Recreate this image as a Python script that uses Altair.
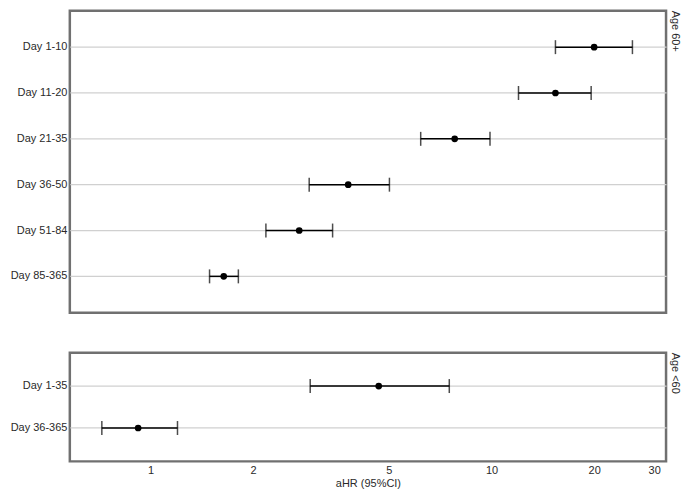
import altair as alt
import pandas as pd

groups = ["Age 60+"] * 6 + ["Age <60"] * 2
periods = ["Day 1-10", "Day 11-20", "Day 21-35", "Day 36-50", "Day 51-84", "Day 85-365",
           "Day 1-35", "Day 36-365"]
hr = [20.0, 15.4, 7.8, 3.8, 2.73, 1.64, 4.67, 0.92]
lo = [15.4, 12.0, 6.2, 2.92, 2.18, 1.49, 2.94, 0.72]
hi = [25.9, 19.6, 9.9, 5.02, 3.42, 1.81, 7.52, 1.20]
tick_values = [1, 2, 5, 10, 20, 30]

df = pd.DataFrame({"group": groups, "period": periods, "hr": hr, "lo": lo, "hi": hi})

xscale = alt.Scale(type="log", domain=[0.58, 32.5], nice=False)


def panel(group, height, show_axis):
    sub = df[df["group"] == group]
    order = list(sub["period"])
    if show_axis:
        xaxis = alt.Axis(values=tick_values, format="d", grid=False, ticks=False, domain=False,
                         title="aHR (95%CI)", labelFontSize=11, titleFontSize=11,
                         labelColor="#2a2a2a", titleColor="#2a2a2a", titleFontWeight="normal",
                         labelPadding=3, titlePadding=2)
    else:
        xaxis = None
    yenc = alt.Y("period:N", sort=order, title=None,
                 scale=alt.Scale(padding=0.59),
                 axis=alt.Axis(grid=True, gridColor="#d0d0d0", gridWidth=1.2, ticks=False,
                               domain=False, labelFontSize=11, labelColor="#2a2a2a",
                               labelPadding=3))
    base = alt.Chart(sub)
    rule = base.mark_rule(color="black", strokeWidth=1.5).encode(
        x=alt.X("lo:Q", scale=xscale, axis=xaxis), x2="hi:Q", y=yenc)
    tlo = base.mark_tick(color="black", size=14, thickness=1.5).encode(x=alt.X("lo:Q"), y=yenc)
    thi = base.mark_tick(color="black", size=14, thickness=1.5).encode(x=alt.X("hi:Q"), y=yenc)
    pt = base.mark_circle(color="black", size=45, opacity=1).encode(x=alt.X("hr:Q"), y=yenc)
    return alt.layer(rule, tlo, thi, pt).properties(
        width=598, height=height,
        title=alt.TitleParams(group, orient="right", anchor="start", fontSize=11,
                              fontWeight="normal", color="#2a2a2a", offset=4))


chart = alt.vconcat(
    panel("Age 60+", 303, False),
    panel("Age <60", 109, True),
    spacing=36,
).configure(font="Liberation Sans").configure_view(
    stroke="#707070", strokeWidth=2.5
).properties(padding={"left": 0, "top": 0, "right": 0, "bottom": 0})

chart.save("out.html", embed_options={"renderer": "svg", "actions": False})
